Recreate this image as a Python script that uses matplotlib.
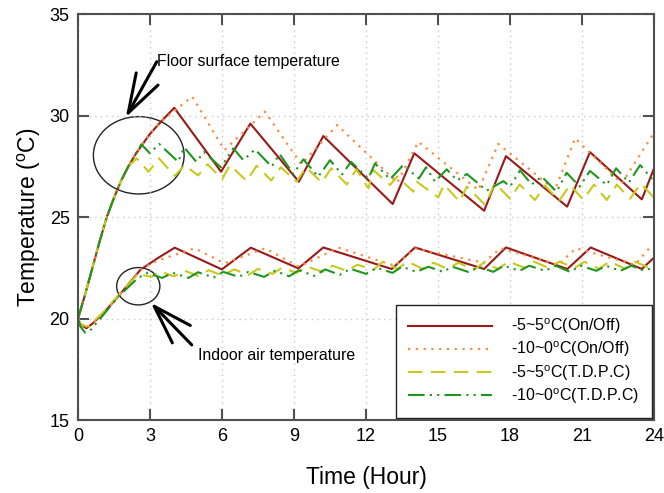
import matplotlib
matplotlib.use("Agg")
import matplotlib.pyplot as plt
from matplotlib.patches import Ellipse

# ---- data ----
# floor surface temperature
t_floor_onoff_5 = [0, 0.3, 0.6, 0.9, 1.2, 1.5, 1.8, 2.1, 2.4, 2.7, 3.0, 3.5, 4.01, 5.96, 7.18, 9.2,
                   10.22, 13.11, 14.01, 16.92, 17.83, 20.38, 21.33, 23.49, 24.0]
T_floor_onoff_5 = [20, 21.2, 22.5, 23.8, 25.0, 25.95, 26.8, 27.5, 28.1, 28.6, 29.1, 29.75, 30.38, 27.23, 29.6, 26.74,
                   28.99, 25.64, 28.14, 25.31, 28.0, 25.51, 28.2, 25.87, 27.4]

t_floor_onoff_10 = [0, 0.3, 0.6, 0.9, 1.2, 1.5, 1.8, 2.1, 2.4, 2.7, 3.0, 3.4, 4.76, 6.1, 7.79, 9.3,
                    10.8, 13.3, 14.18, 16.68, 17.51, 19.87, 20.71, 22.65, 24.0]
T_floor_onoff_10 = [20, 21.2, 22.5, 23.8, 25.0, 25.95, 26.8, 27.5, 28.1, 28.6, 29.1, 29.65, 30.93, 28.3, 30.19, 27.6,
                    29.53, 26.7, 28.7, 26.33, 28.6, 26.33, 28.88, 26.65, 29.15]

t_floor_tdpc_5 = [0, 0.3, 0.6, 0.9, 1.2, 1.5, 1.8, 2.1, 2.45, 2.94, 3.375, 4.03, 4.44, 5.0, 5.4, 6.0,
                  6.33, 7.03, 7.44, 8.05, 8.45, 9.11, 9.5, 10.15, 10.55, 11.2, 11.6, 12.1, 12.3, 13.0, 13.3,
                  13.97, 14.11, 15.01, 15.25, 15.9, 16.2, 16.96, 17.375, 18.0, 18.4, 19.04, 19.45, 20.05, 20.5,
                  21.05, 21.5, 22.03, 22.45, 23.0, 23.45, 23.96, 24.0]
T_floor_tdpc_5 = [20, 21.2, 22.5, 23.8, 25.0, 25.95, 26.8, 27.5, 27.89, 27.23, 27.89, 27.02, 27.56, 27.05, 27.6, 26.86,
                  27.56, 26.77, 27.53, 26.8, 27.45, 26.74, 27.45, 26.7, 27.4, 26.6, 27.35, 26.41, 27.32, 26.58, 27.0,
                  26.25, 26.74, 25.97, 26.6, 25.76, 26.5, 25.6, 26.66, 25.9, 26.6, 25.84, 26.55, 25.8, 26.58,
                  25.85, 26.6, 25.84, 26.6, 25.9, 26.65, 26.0, 26.05]

t_floor_tdpc_10 = [0, 0.3, 0.6, 0.9, 1.2, 1.5, 1.8, 2.1, 2.4, 2.64, 2.99, 3.38, 4.17, 4.42, 4.93, 5.25, 5.95,
                   6.47, 6.89, 7.375, 8.07, 8.4, 8.97, 9.39, 10.01, 10.5, 11.0, 11.375, 12.1, 12.375, 13.0, 13.55,
                   14.2, 14.5, 14.875, 15.36, 15.8, 16.2, 17.03, 17.72, 18.0, 18.42, 18.9, 19.32, 19.94, 20.36,
                   20.9, 21.33, 22.03, 22.42, 22.95, 23.42, 23.9, 24.0]
T_floor_tdpc_10 = [20, 21.2, 22.5, 23.8, 25.0, 25.95, 26.8, 27.5, 28.1, 28.58, 28.14, 28.6, 27.72, 28.43, 27.72, 28.2, 27.45,
                   28.38, 27.8, 28.33, 27.48, 28.1, 27.12, 27.84, 26.99, 27.8, 27.1, 27.72, 26.9, 27.64, 26.86, 27.56,
                   26.9, 27.45, 26.74, 27.35, 26.8, 27.12, 26.3, 26.77, 26.5, 27.3, 26.6, 26.99, 26.25, 27.18,
                   26.5, 27.27, 26.58, 27.4, 26.7, 27.56, 26.9, 27.0]

# indoor air temperature
t_air_onoff_5 = [0, 0.1, 0.35, 0.6, 1.0, 1.5, 2.0, 2.6, 3.3, 4.03, 5.99, 7.2, 9.18, 10.22, 13.07, 14.04,
                 16.92, 17.83, 20.39, 21.36, 23.49, 24.0]
T_air_onoff_5 = [20, 19.7, 19.52, 19.75, 20.2, 20.85, 21.55, 22.4, 22.96, 23.49, 22.42, 23.49, 22.47, 23.5, 22.44, 23.5,
                 22.44, 23.5, 22.44, 23.5, 22.44, 23.0]

t_air_onoff_10 = [0, 0.1, 0.35, 0.6, 1.0, 1.5, 2.0, 2.6, 3.3, 4.86, 6.11, 7.8, 9.2, 10.85, 13.2, 14.05,
                  16.9, 17.6, 20.0, 20.75, 23.2, 23.8, 24.0]
T_air_onoff_10 = [20, 19.7, 19.52, 19.75, 20.2, 20.85, 21.55, 22.4, 22.85, 23.46, 22.72, 23.46, 22.55, 23.49, 22.6, 23.45,
                  22.75, 23.46, 22.65, 23.46, 22.65, 23.46, 23.3]

t_air_tdpc_5 = [0, 0.1, 0.35, 0.6, 1.0, 1.5, 2.0, 2.5, 3.05, 3.4, 4.0, 4.45, 5.0, 5.45, 6.0, 6.5, 7.1, 7.5,
                8.1, 8.5, 9.1, 9.55, 10.2, 10.6, 11.2, 11.65, 12.3, 12.7, 13.3, 13.75, 14.35, 14.8, 15.4, 15.85,
                16.5, 16.9, 17.5, 17.95, 18.6, 19.0, 19.6, 20.05, 20.7, 21.1, 21.7, 22.15, 22.8, 23.2, 23.8, 24.0]
T_air_tdpc_5 = [20, 19.75, 19.6, 19.8, 20.25, 20.9, 21.55, 22.2, 22.05, 22.32, 22.08, 22.35, 22.1, 22.38, 22.12, 22.42, 22.15, 22.45,
                22.2, 22.5, 22.25, 22.55, 22.3, 22.6, 22.35, 22.65, 22.4, 22.8, 22.45, 22.8, 22.45, 22.75, 22.45, 22.75,
                22.4, 22.75, 22.45, 22.8, 22.5, 22.8, 22.5, 22.8, 22.5, 22.8, 22.45, 22.8, 22.45, 22.8, 22.5, 22.6]

t_air_tdpc_10 = [0, 0.1, 0.3, 0.5, 1.0, 1.67, 2.5, 2.9, 3.5, 3.95, 4.6, 5.0, 5.65, 6.05, 6.7, 7.1, 7.75, 8.2,
                 8.8, 9.2, 9.85, 10.3, 10.9, 11.35, 12.0, 12.45, 13.1, 13.5, 14.1, 14.6, 15.2, 15.6, 16.25, 16.7,
                 17.3, 17.75, 18.4, 18.8, 19.45, 19.9, 20.5, 20.95, 21.6, 22.0, 22.6, 23.05, 23.6, 24.0]
T_air_tdpc_10 = [20, 19.6, 19.3, 19.4, 20.1, 21.07, 22.0, 22.25, 22.0, 22.25, 22.0, 22.28, 22.02, 22.3, 22.05, 22.3, 22.05, 22.35,
                 22.08, 22.38, 22.1, 22.42, 22.15, 22.45, 22.2, 22.5, 22.25, 22.55, 22.3, 22.55, 22.3, 22.55, 22.3, 22.55,
                 22.3, 22.6, 22.35, 22.6, 22.35, 22.6, 22.3, 22.6, 22.35, 22.6, 22.35, 22.6, 22.35, 22.55]

x_ticks = [0, 3, 6, 9, 12, 15, 18, 21, 24]
y_ticks = [15, 20, 25, 30, 35]

labels = [r"-5~5$^{\mathregular{o}}$C(On/Off)", r"-10~0$^{\mathregular{o}}$C(On/Off)",
          r"-5~5$^{\mathregular{o}}$C(T.D.P.C)", r"-10~0$^{\mathregular{o}}$C(T.D.P.C)"]

plt.rcParams["font.family"] = ["Liberation Sans", "DejaVu Sans"]
plt.rcParams["mathtext.fontset"] = "custom"
plt.rcParams["mathtext.rm"] = "Liberation Sans"

RED = "#991818"
ORANGE = "#FF8A3D"
YELLOW = "#C8C81E"
GREEN = "#1E961E"
AXC = "#505050"

fig = plt.figure(figsize=(6.64, 4.93), dpi=100)
ax = fig.add_axes([0.1175, 0.148, 0.8675, 0.8236])

styles = [
    dict(color=RED, linestyle="-", linewidth=1.5),
    dict(color=ORANGE, linestyle=(0, (1, 2.5)), linewidth=1.6),
    dict(color=YELLOW, linestyle=(0, (7, 4)), linewidth=1.5),
    dict(color=GREEN, linestyle=(0, (8, 2.5, 1, 2.5, 1, 2.5)), linewidth=1.5),
]
floor = [(t_floor_onoff_5, T_floor_onoff_5), (t_floor_onoff_10, T_floor_onoff_10),
         (t_floor_tdpc_5, T_floor_tdpc_5), (t_floor_tdpc_10, T_floor_tdpc_10)]
air = [(t_air_onoff_5, T_air_onoff_5), (t_air_onoff_10, T_air_onoff_10),
       (t_air_tdpc_5, T_air_tdpc_5), (t_air_tdpc_10, T_air_tdpc_10)]

handles = []
for (tf, Tf), (ta, Ta), st, lab in zip(floor, air, styles, labels):
    h, = ax.plot(tf, Tf, label=lab, **st)
    ax.plot(ta, Ta, **st)
    handles.append(h)

ax.set_xlim(0, 24)
ax.set_ylim(15, 35)
ax.set_xticks(x_ticks)
ax.set_yticks(y_ticks)
ax.grid(True, linestyle=(0, (1, 3)), color="#c8c8c8", linewidth=1)
ax.tick_params(direction="in", length=8, width=1.5, color=AXC, top=True, right=True,
               labelsize=13, pad=6)
for sp in ax.spines.values():
    sp.set_color(AXC)
    sp.set_linewidth(1.5)

ax.set_xlabel("Time (Hour)", fontsize=16.5, labelpad=15)
ax.set_ylabel(r"Temperature ($^{\mathregular{o}}$C)", fontsize=16.5, labelpad=5)

# annotations
ax.add_patch(Ellipse((2.53, 28.04), 3.78, 3.81, fill=False, edgecolor="#222222", linewidth=1))
ax.add_patch(Ellipse((2.51, 21.59), 1.8, 1.84, fill=False, edgecolor="#222222", linewidth=1))
arrow = dict(arrowstyle="->,head_length=1.4,head_width=0.45", color="black", linewidth=2.2,
             mutation_scale=20, shrinkA=0, shrinkB=0)
ax.annotate("", xy=(1.99, 29.91), xytext=(3.28, 32.65), arrowprops=arrow)
ax.text(3.3, 32.65, "Floor surface temperature", fontsize=11.4, ha="left", va="center")
ax.annotate("", xy=(3.03, 20.78), xytext=(4.74, 18.7), arrowprops=arrow)
ax.text(5.0, 18.2, "Indoor air temperature", fontsize=11.4, ha="left", va="center")

leg = ax.legend(handles=handles, loc="lower right", fontsize=11.5, handlelength=5.3,
                handletextpad=1.2, labelspacing=0.22, borderpad=0.75, borderaxespad=0.15,
                fancybox=False, framealpha=1, edgecolor="#222222")
leg.get_frame().set_linewidth(1)

fig.savefig("out.png", dpi=100)
